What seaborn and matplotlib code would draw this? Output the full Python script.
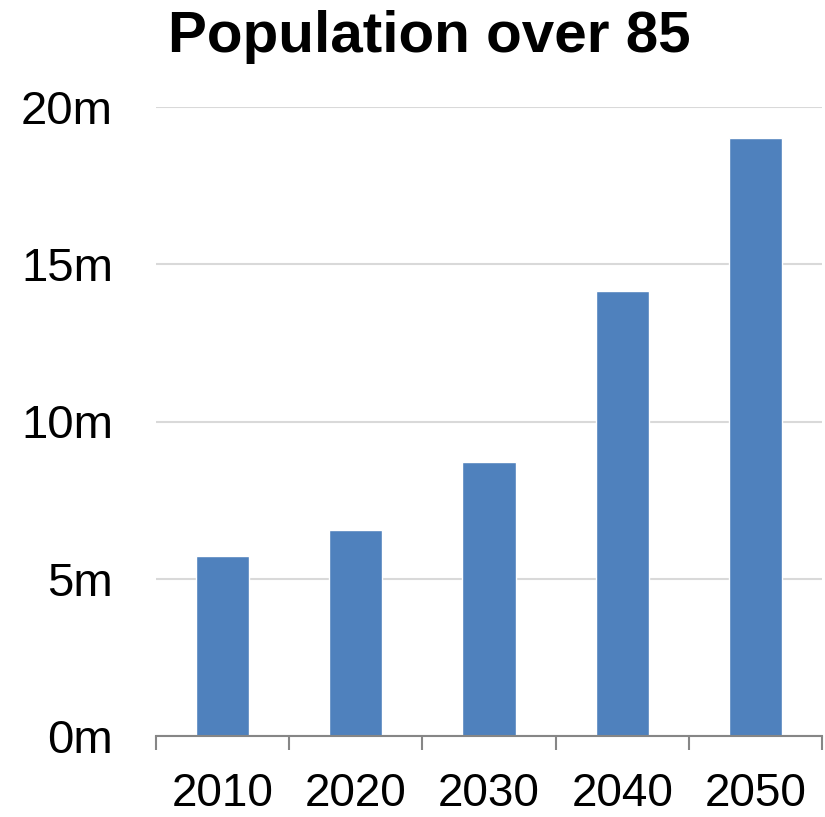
import numpy as np
import pandas as pd
import seaborn as sns
import matplotlib.pyplot as plt
from matplotlib.ticker import FixedLocator, FuncFormatter

years = ['2010', '2020', '2030', '2040', '2050']
population = [5.71, 6.56, 8.71, 14.16, 19.0]  # millions
yticks = [0, 5, 10, 15, 20]

df = pd.DataFrame({'Year': years, 'Population': population})

sns.set_style('white')
plt.rcParams['font.family'] = ['Liberation Sans', 'DejaVu Sans']
plt.rcParams['text.color'] = 'black'
plt.rcParams['xtick.color'] = 'black'
plt.rcParams['ytick.color'] = 'black'

fig = plt.figure(figsize=(8.25, 8.17), dpi=100)
ax = fig.add_axes([156 / 825, 81 / 817, 666 / 825, 629 / 817])

sns.barplot(data=df, x='Year', y='Population', color='#4F81BD', width=0.4,
            saturation=1, ax=ax)

ax.set_xlim(-0.5, 4.5)
ax.set_ylim(0, 20)
ax.set_yticks(yticks)
ax.yaxis.set_major_formatter(FuncFormatter(lambda v, p: '%dm' % v))
ax.grid(axis='y', color='#d9d9d9', lw=1.5)
ax.set_axisbelow(True)
for s in ['top', 'right', 'left']:
    ax.spines[s].set_visible(False)
ax.spines['bottom'].set_color('#868686')
ax.spines['bottom'].set_linewidth(1.5)

ax.tick_params(axis='y', length=0, pad=31, labelsize=34, labelcolor='black')
ax.tick_params(axis='x', which='major', length=0, pad=26, labelsize=33,
               labelcolor='black')
ax.xaxis.set_minor_locator(FixedLocator(np.arange(-0.5, 5, 1)))
ax.tick_params(axis='x', which='minor', bottom=True, length=10, width=1.5,
               color='#868686', direction='out')
ax.set_xlabel('')
ax.set_ylabel('')

fig.text(429 / 825, 1 - 52 / 817, 'Population over 85', ha='center',
         va='baseline', fontsize=42, fontweight='bold', color='black')

fig.savefig('out.png', dpi=100)
